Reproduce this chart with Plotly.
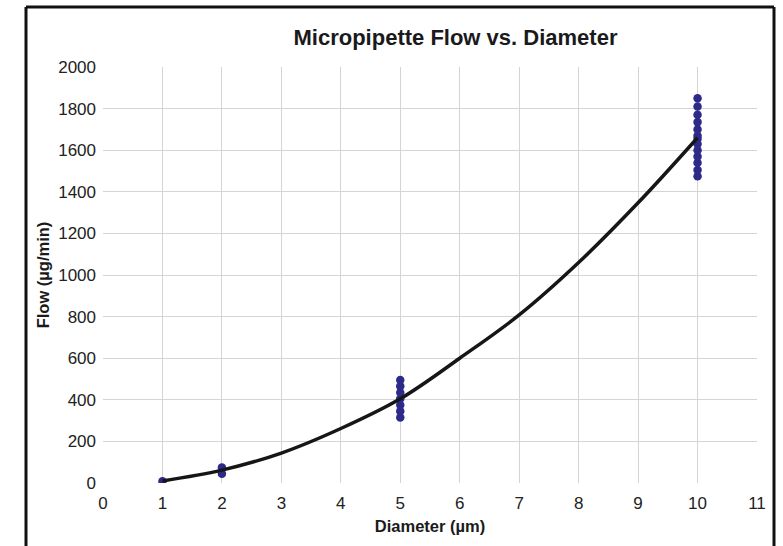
import plotly.graph_objects as go

# Measured data (diameter in µm, flow in µg/min)
diam_1 = [1]
flow_1 = [8]
diam_2 = [2, 2]
flow_2 = [45, 75]
diam_5 = [5, 5, 5, 5, 5, 5, 5]
flow_5 = [315, 345, 375, 405, 435, 465, 495]
diam_10 = [10] * 13
flow_10 = [1475, 1505, 1540, 1570, 1600, 1630, 1655, 1670, 1700, 1735, 1770, 1810, 1850]

# Fitted curve
fit_x = [1, 2, 3, 4, 5, 6, 7, 8, 9, 10]
fit_y = [10, 62, 144, 262, 405, 600, 808, 1060, 1347, 1660]

x_ticks = list(range(0, 12))
y_ticks = list(range(0, 2001, 200))

pts_x = diam_1 + diam_2 + diam_5 + diam_10
pts_y = flow_1 + flow_2 + flow_5 + flow_10

FONT = "Liberation Sans, Arial, sans-serif"
W, H = 783, 546
ML, MT, MR, MB = 103, 67, 26, 63

fig = go.Figure()
fig.add_trace(go.Scatter(
    x=pts_x, y=pts_y, mode="markers",
    marker=dict(size=8.5, color="#2e2a8a"),
    showlegend=False, hoverinfo="x+y",
))
fig.add_trace(go.Scatter(
    x=fit_x, y=fit_y, mode="lines",
    line=dict(color="#161616", width=3.5, shape="spline"),
    showlegend=False,
))

fig.update_layout(
    width=W, height=H,
    margin=dict(l=ML, r=MR, t=MT, b=MB),
    paper_bgcolor="white", plot_bgcolor="white",
    font=dict(family=FONT, color="#222222"),
    title=dict(
        text="<b>Micropipette Flow vs. Diameter</b>",
        x=422 / W, xref="paper", xanchor="center",
        y=1 - 37 / H, yref="container", yanchor="middle",
        font=dict(size=22, color="#1a1a1a", family=FONT),
    ),
    xaxis=dict(
        range=[0, 11], tickvals=x_ticks, ticktext=[str(v) for v in x_ticks],
        showgrid=True, gridcolor="#d4d4d4", gridwidth=1,
        zeroline=False, showline=False,
        ticks="", ticklabelstandoff=8,
        tickfont=dict(size=17, color="#222222"),
        title=dict(text="<b>Diameter (µm)</b>", font=dict(size=16.5, color="#1a1a1a"), standoff=8),
    ),
    yaxis=dict(
        range=[0, 2000], tickvals=y_ticks, ticktext=[str(v) for v in y_ticks],
        showgrid=True, gridcolor="#d4d4d4", gridwidth=1,
        zeroline=False, showline=False,
        ticks="", ticklabelstandoff=6,
        tickfont=dict(size=17, color="#222222"),
        title=dict(text="<b>Flow (µg/min)</b>", font=dict(size=16.5, color="#1a1a1a"), standoff=4),
    ),
)

# Outer frame (open at bottom, as in the reference)
PW, PH = W - ML - MR, H - MT - MB
def px_x(p):
    return (p - ML) / PW
def px_y(p):
    return 1 - (p - MT) / PH
for (x0, y0, x1, y1) in [
    (26, 7, 26, 560),
    (26, 7, 774, 7),
    (774, 7, 774, 560),
]:
    fig.add_shape(type="line", xref="paper", yref="paper",
                  x0=px_x(x0), y0=px_y(y0), x1=px_x(x1), y1=px_y(y1),
                  line=dict(color="#111111", width=3), layer="above")

fig.write_html(
    "out.html",
    config={"displayModeBar": False},
    post_script="document.body.style.margin='0';document.body.style.overflow='hidden';",
)
